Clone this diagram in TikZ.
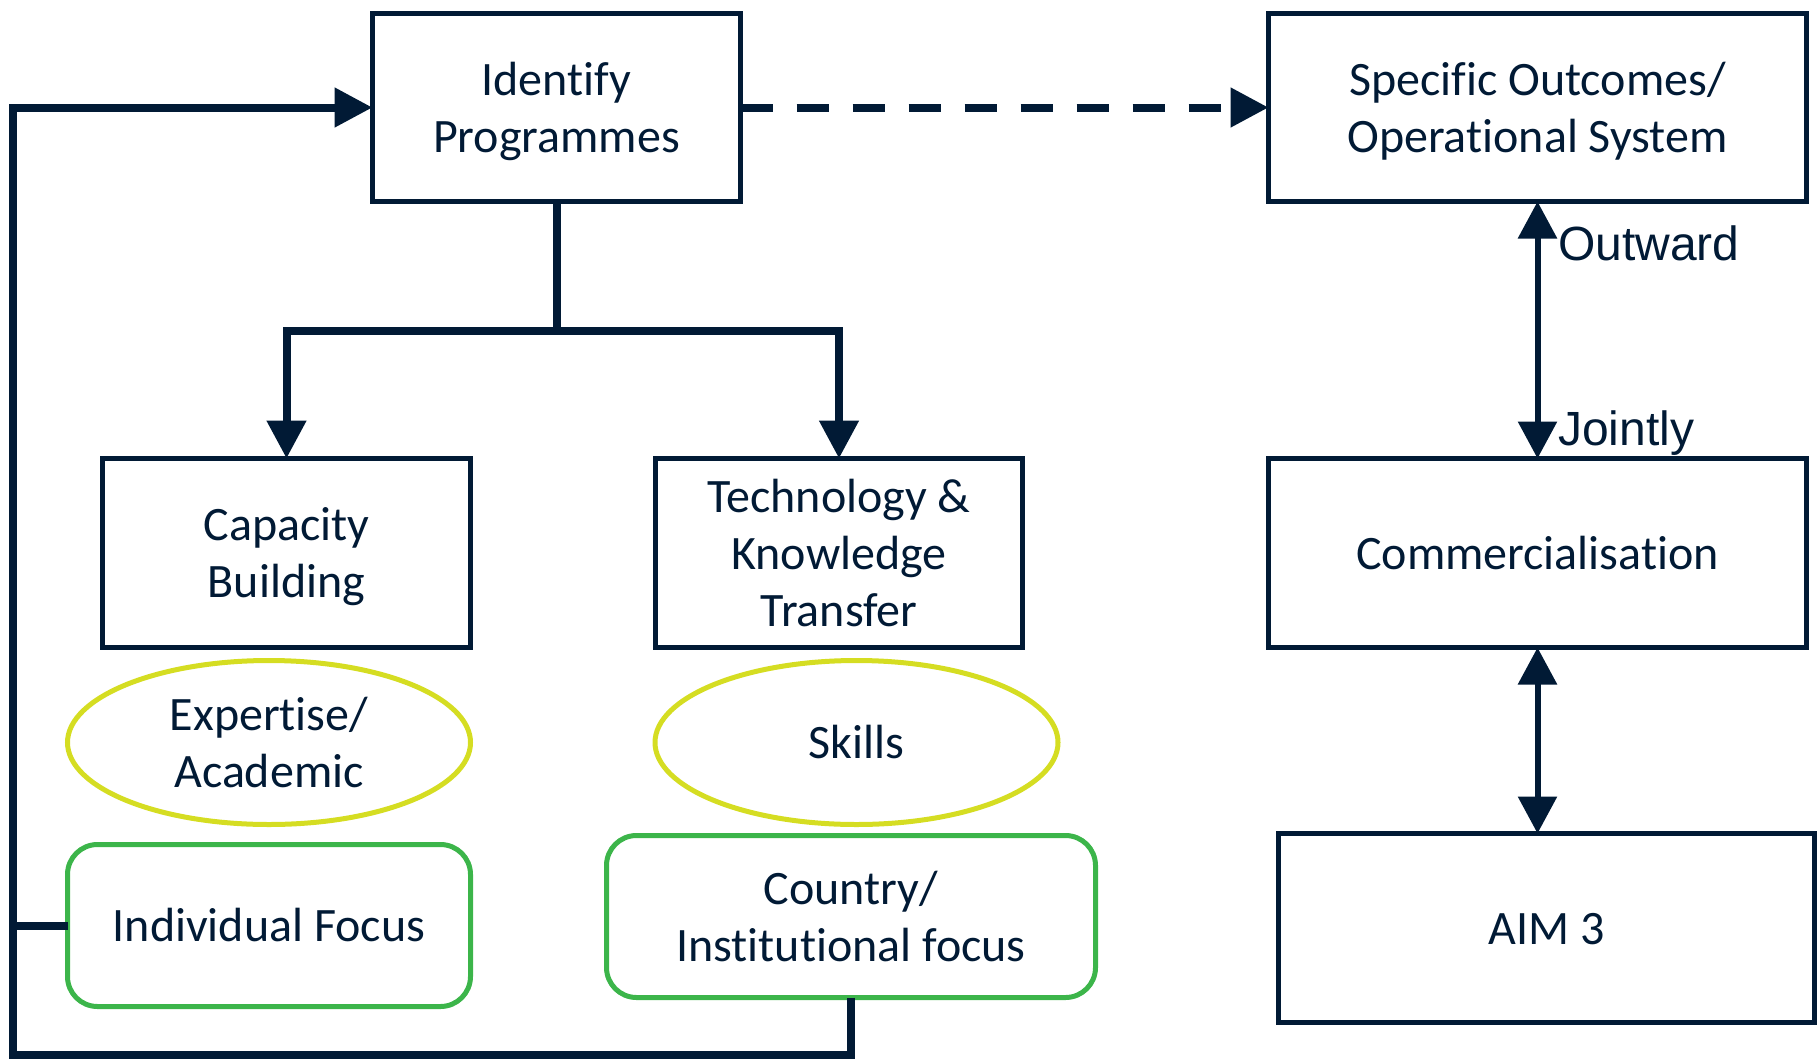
\documentclass[tikz,border=0pt]{standalone}
\usepackage{fontspec}
\setmainfont{Carlito}[Ligatures=NoCommon]
\newfontfamily\arialf{Liberation Sans}
\usetikzlibrary{arrows.meta,shapes.geometric}
\definecolor{navy}{HTML}{011A35}
\definecolor{ylw}{HTML}{D5DD22}
\definecolor{grn}{HTML}{3CB54A}
\newcommand\bstr{\rule{0pt}{44pt}}
\newcommand\estr{\rule[-12pt]{0pt}{12pt}}
\begin{document}
\begin{tikzpicture}[x=1pt,y=-1pt,
  every node/.style={text=navy, font=\fontsize{48}{57}\selectfont, align=center, inner sep=0pt, outer sep=0pt},
  box/.style={draw=navy, line width=5pt, rectangle},
  oval/.style={draw=ylw, line width=5pt, ellipse, minimum width=403pt, minimum height=164pt},
  rbox/.style={draw=grn, line width=5pt, rounded corners=30pt, rectangle},
  conn/.style={draw=navy, line width=8pt, line join=miter},
  tip/.style={-{Triangle[length=38pt,width=38pt]}},
  dbl/.style={draw=navy, line width=6pt, {Triangle[length=37pt,width=38pt]}-{Triangle[length=37pt,width=38pt]}},
  lab/.style={font=\arialf\fontsize{48}{57}\selectfont, anchor=base west}
]
\useasboundingbox (0,0) rectangle (1819,1060);

\node[box, minimum width=368pt, minimum height=188pt] (ident) at (556.5,107.5) {\bstr Identify\\Programmes\estr};
\node[box, minimum width=538pt, minimum height=188pt] (spec) at (1537.5,107.5) {\bstr Specific Outcomes/\\Operational System\estr};
\node[box, minimum width=368pt, minimum height=189pt] (cap) at (286.5,553) {\bstr Capacity\\Building\estr};
\node[box, minimum width=367pt, minimum height=189pt] (tech) at (839,553) {\bstr Technology \&\\Knowledge\\Transfer\estr};
\node[box, minimum width=538pt, minimum height=189pt] (comm) at (1537.5,553) {\bstr Commercialisation\estr};
\node[box, minimum width=536pt, minimum height=189pt] (aim) at (1546.5,928) {\bstr AIM 3\estr};
\node[oval] (exp) at (269,742.5) {\bstr Expertise/\\Academic\estr};
\node[oval] (skills) at (856.5,742.5) {\bstr Skills\estr};
\node[rbox, minimum width=403pt, minimum height=162pt] (indiv) at (269,925.5) {\bstr Individual Focus\estr};
\node[rbox, minimum width=489pt, minimum height=162pt] (country) at (851,916.5) {\bstr Country/\\Institutional focus\estr};

\coordinate (tl) at (13,107.5);
\coordinate (bl) at (13,1055);
\coordinate (br) at (country.south |- bl);
\coordinate (forky) at (0,331);

\draw[conn, tip] (country.south) -- (br) -- (bl) -- (tl) -- (ident.west);
\draw[conn] (indiv.west) -- (indiv.west -| tl);
\draw[conn] (ident.south) -- (ident.south |- forky);
\draw[conn, tip] (ident.south |- forky) -| (cap.north);
\draw[conn, tip] (ident.south |- forky) -| (tech.north);
\draw[conn, tip, dash pattern=on 32pt off 24pt] (ident.east) -- (spec.west);
\draw[dbl] (spec.south) -- (comm.north);
\draw[dbl] (comm.south) -- (comm.south |- aim.north);
\node[lab] (out) at (1558,260) {Outward};
\node[lab] (joint) at (1558,445.6) {Jointly};
\end{tikzpicture}
\end{document}
